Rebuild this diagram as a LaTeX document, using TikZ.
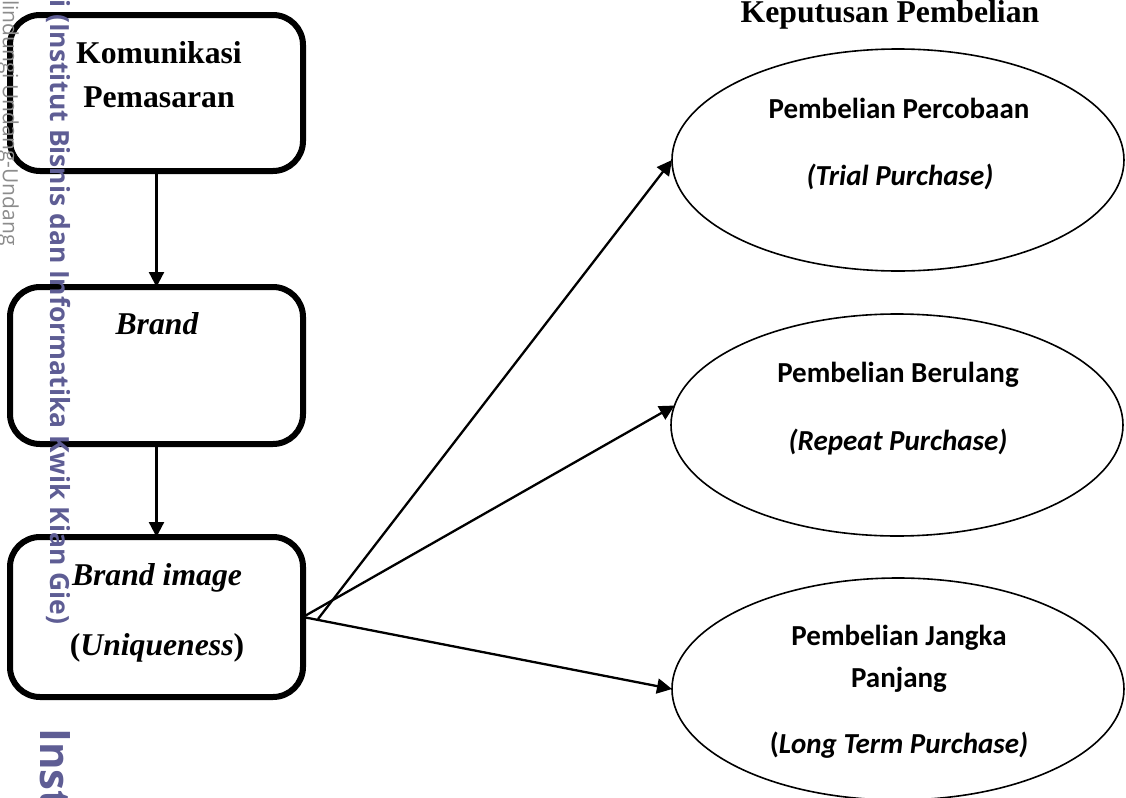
\documentclass[tikz,border=0pt]{standalone}
\usepackage{fontspec}
\setmainfont{Liberation Serif}
\newfontfamily\calibri{Carlito}
\newfontfamily\wmfont{Open Sans}
\usepackage[HTML]{xcolor}
\usetikzlibrary{positioning, arrows.meta, shapes.geometric}
\definecolor{wmpurple}{HTML}{5E5D94}
\definecolor{wmgrey}{HTML}{8C8C8C}

\begin{document}
\begin{tikzpicture}[x=0.5pt,y=-0.5pt,
  varbox/.style={draw,line width=3pt,rounded corners=15pt,minimum width=146.5pt,inner sep=0pt,outer sep=0pt},
  dimbox/.style={draw,ellipse,line width=0.8pt,minimum width=226pt,minimum height=111pt,inner sep=0pt,outer sep=0pt},
  arr/.style={-{Triangle[length=7.5pt,width=7.5pt]},line width=1.15pt},
  boxtxt/.style={font=\fontsize{15.85}{19}\selectfont\bfseries,anchor=base,inner sep=0pt},
  elltxt/.style={font=\calibri\fontsize{14.5}{17}\selectfont\bfseries,anchor=base,inner sep=0pt},
  wmark/.style={font=\wmfont\bfseries,rotate=-90,inner sep=0pt}]
\useasboundingbox (0,0) rectangle (1126,798);
% variabel
\node[varbox,minimum height=78pt] (kom) at (156.5,93) {};
\node[varbox,minimum height=78.5pt] (brd) at (156.5,365.5) {};
\node[varbox,minimum height=80pt] (img) at (156.5,617) {};
\node[boxtxt] (kom1) at (159,63) {Komunikasi};
\node[boxtxt] (kom2) at (159,107) {Pemasaran};
\node[boxtxt] (brd1) at (157,334) {\itshape Brand};
\node[boxtxt] (img1) at (157,585) {\itshape Brand image};
\node[boxtxt] (img2) at (157,655) {(\textit{Uniqueness})};
% dimensi keputusan pembelian
\node[boxtxt] (kpt) at (890,22) {Keputusan Pembelian};
\node[dimbox] (trial) at (898,160) {};
\node[dimbox] (repeat) at (897,425) {};
\node[dimbox] (long) at (898,689) {};
\node[elltxt] (trial1) at (899,118) {Pembelian Percobaan};
\node[elltxt] (trial2) at (900,185) {\itshape (Trial Purchase)};
\node[elltxt] (rep1) at (898,382) {Pembelian Berulang};
\node[elltxt] (rep2) at (898,450) {\itshape (Repeat Purchase)};
\node[elltxt] (long1) at (899,645) {Pembelian Jangka};
\node[elltxt] (long2) at (899,687) {Panjang};
\node[elltxt] (long3) at (899,753) {(\textit{Long Term Purchase)}};
% panah
\draw[arr] (kom.south) -- (brd.north);
\draw[arr] (brd.south) -- (img.north);
\coordinate (fork) at (318,619);
\draw[arr] (fork) -- (trial.west);
\draw[arr] (img.east) -- (repeat.175);
\draw[arr] (img.east) -- (long.west);
% watermark
\node[wmark,font=\wmfont\fontsize{10.5}{12}\selectfont,text=wmgrey,anchor=base east] (wm1) at (3,246) {Dilindungi Undang-Undang};
\node[wmark,font=\wmfont\bfseries\fontsize{13.2}{16}\selectfont,text=wmpurple,anchor=base west] (wm2) at (50,-1) {i (Institut Bisnis dan Informatika Kwik Kian Gie)};
\node[wmark,font=\wmfont\bfseries\fontsize{21}{24}\selectfont,text=wmpurple,anchor=base west] (wm3) at (40,728) {Inst};
\end{tikzpicture}
\end{document}
